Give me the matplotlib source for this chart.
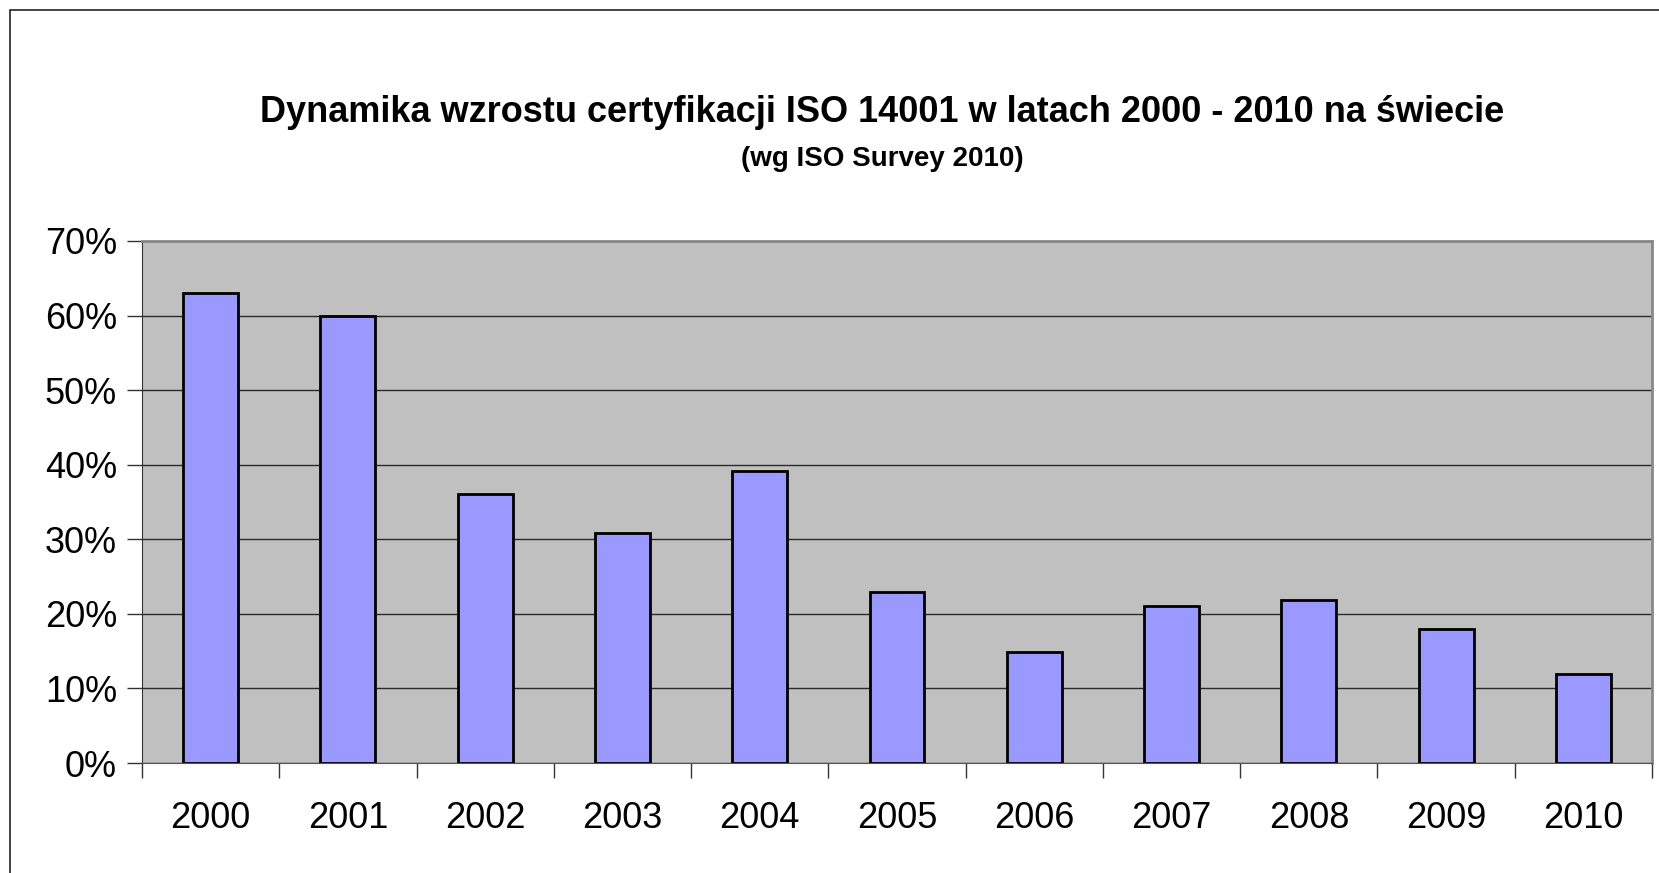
import numpy as np
import matplotlib.pyplot as plt
from matplotlib.patches import Rectangle
from matplotlib.ticker import FuncFormatter

# Data
years = ['2000', '2001', '2002', '2003', '2004', '2005',
         '2006', '2007', '2008', '2009', '2010']
growth = [0.63, 0.60, 0.361, 0.308, 0.392, 0.229,
          0.149, 0.210, 0.218, 0.180, 0.119]
yticks = [0.0, 0.1, 0.2, 0.3, 0.4, 0.5, 0.6, 0.7]

title = 'Dynamika wzrostu certyfikacji ISO 14001 w latach 2000 - 2010 na świecie'
subtitle = '(wg ISO Survey 2010)'

plt.rcParams['font.family'] = ['Liberation Sans', 'DejaVu Sans']

fig = plt.figure(figsize=(16.59, 8.73), dpi=100)
ax = fig.add_axes([0.0856, 0.126, 0.9102, 0.598])

# outer chart-area border (runs off the right/bottom edge)
fig.patches.append(Rectangle((10 / 1659, -0.05), 1.1, 1 - 10 / 873 + 0.05,
                             transform=fig.transFigure, fill=False,
                             edgecolor='#222222', linewidth=1.2, zorder=0))

x = np.arange(len(years))
ax.set_facecolor('#c0c0c0')
ax.bar(x, growth, width=0.40, color='#9999ff', edgecolor='black',
       linewidth=2.0, zorder=3)

ax.set_xlim(-0.5, len(years) - 0.5)
ax.set_ylim(0, 0.7)
ax.set_yticks(yticks)
ax.yaxis.set_major_formatter(FuncFormatter(lambda v, p: f'{v * 100:.0f}%'))
ax.grid(axis='y', color='#2a2a2a', linewidth=1.0, zorder=1)
ax.set_axisbelow(True)

# ticks between categories, labels at centres
ax.set_xticks(np.arange(-0.5, len(years), 1.0))
ax.set_xticklabels([])
ax.set_xticks(x, minor=True)
ax.set_xticklabels(years, minor=True)
ax.tick_params(axis='x', which='major', length=11, width=1.0, color='#333333', direction='out')
ax.tick_params(axis='x', which='minor', length=0, pad=27, labelsize=26)
ax.tick_params(axis='y', length=11, width=1.0, color='#333333', pad=7, labelsize=26)

ax.spines['left'].set_color('#333333')
ax.spines['bottom'].set_color('#555555')
ax.spines['top'].set_color('#888888')
ax.spines['right'].set_color('#888888')
for s in ['top', 'right']:
    ax.spines[s].set_linewidth(2.0)

fig.text(0.532, 1 - 112 / 873, title, ha='center', va='center',
         fontsize=26, fontweight='bold')
fig.text(0.532, 1 - 159 / 873, subtitle, ha='center', va='center',
         fontsize=20, fontweight='bold')

fig.savefig('out.png', dpi=100)
